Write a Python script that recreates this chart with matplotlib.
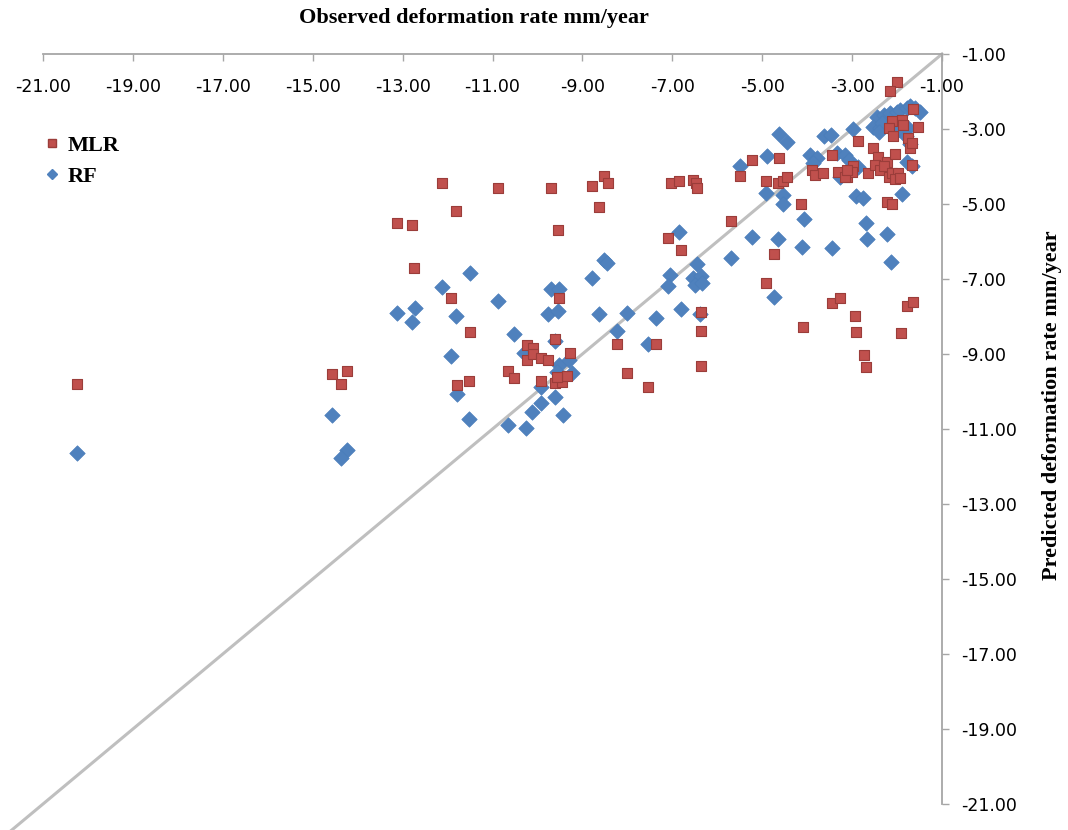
import matplotlib
matplotlib.use('Agg')
import matplotlib.pyplot as plt
from matplotlib.ticker import FormatStrFormatter
from matplotlib.lines import Line2D

# MLR predictions (observed, predicted) in mm/year
mlr_obs = [-20.25, -14.58, -14.23, -14.36, -13.12, -12.80, -12.75, -12.12, -10.87, -9.70,
           -11.82, -9.55, -8.79, -8.52, -8.44, -8.64, -7.03, -6.86, -6.54, -6.47,
           -6.45, -5.70, -7.10, -6.81, -11.92, -9.53, -11.50, -6.36, -6.36, -6.36,
           -8.24, -7.37, -8.01, -7.54, -11.53, -11.80, -10.65, -10.53, -10.24, -10.09,
           -10.24, -10.10, -9.93, -9.77, -9.62, -9.27, -9.91, -9.60, -9.45, -9.34,
           -9.56, -5.50, -5.23, -4.62, -4.91, -4.64, -4.54, -4.45, -3.89, -3.82,
           -3.65, -3.45, -3.32, -3.12, -2.98, -3.01, -2.65, -2.86, -2.53, -2.43,
           -2.23, -2.04, -2.49, -2.38, -2.30, -2.19, -2.12, -1.97, -2.04, -1.93,
           -3.16, -3.12, -1.67, -2.23, -2.12, -4.13, -4.73, -4.91, -3.44, -3.27,
           -4.10, -2.93, -2.91, -2.73, -2.69, -1.78, -1.64, -1.91, -2.01, -2.16,
           -1.53, -1.64, -2.12, -1.89, -1.86, -2.19, -2.08, -1.76, -1.71, -1.67]
mlr_pred = [-9.81, -9.54, -9.45, -9.81, -5.51, -5.56, -6.72, -4.43, -4.58, -4.58,
            -5.19, -5.69, -4.51, -4.25, -4.43, -5.07, -4.43, -4.40, -4.36, -4.45,
            -4.58, -5.45, -5.90, -6.23, -7.51, -7.51, -8.42, -7.87, -8.39, -9.31,
            -8.74, -8.72, -9.52, -9.87, -9.71, -9.83, -9.45, -9.63, -8.76, -8.85,
            -9.15, -9.01, -9.10, -9.16, -8.61, -8.96, -9.71, -9.78, -9.75, -9.59,
            -9.61, -4.25, -3.84, -3.78, -4.39, -4.45, -4.38, -4.29, -4.09, -4.23,
            -4.18, -3.69, -4.15, -4.29, -3.99, -4.16, -4.18, -3.32, -3.50, -3.74,
            -3.87, -3.67, -3.96, -4.09, -3.99, -4.27, -4.18, -4.18, -4.34, -4.31,
            -4.27, -4.09, -3.96, -4.96, -5.00, -5.00, -6.34, -7.10, -7.65, -7.51,
            -8.27, -7.98, -8.42, -9.04, -9.36, -7.72, -7.61, -8.45, -1.76, -1.98,
            -2.94, -2.47, -2.80, -2.76, -2.89, -2.98, -3.20, -3.23, -3.51, -3.38]

# RF predictions
rf_obs = [-20.24, -14.58, -14.23, -14.36, -13.12, -12.73, -12.80, -11.50, -12.12, -10.87,
          -11.82, -11.92, -11.80, -11.53, -10.53, -9.69, -9.53, -9.77, -9.55, -8.79,
          -8.52, -8.45, -8.64, -8.01, -8.23, -7.55, -7.37, -7.06, -7.10, -6.86,
          -6.81, -6.45, -6.54, -6.36, -6.49, -6.34, -6.38, -5.70, -10.30, -9.62,
          -9.53, -9.23, -9.30, -9.56, -9.93, -9.60, -9.91, -10.13, -9.43, -10.65,
          -10.26, -5.50, -4.90, -4.62, -4.44, -3.62, -3.47, -2.97, -4.91, -4.54,
          -4.54, -4.08, -5.23, -4.64, -4.12, -4.73, -3.44, -2.69, -2.66, -2.22,
          -2.13, -2.92, -2.75, -1.90, -1.66, -1.78, -3.93, -3.77, -3.86, -3.34,
          -3.16, -3.08, -2.98, -2.87, -3.27, -1.71, -2.45, -2.30, -2.16, -2.01,
          -1.93, -1.78, -1.71, -1.60, -1.49, -2.53, -2.38, -2.34, -1.97, -1.75,
          -2.41, -1.80]
rf_pred = [-11.65, -10.63, -11.56, -11.78, -7.90, -7.78, -8.16, -6.85, -7.22, -7.58,
           -7.98, -9.05, -10.07, -10.73, -8.47, -7.28, -7.28, -7.93, -7.85, -6.98,
           -6.49, -6.58, -7.94, -7.91, -8.40, -8.73, -8.05, -6.89, -7.20, -5.74,
           -7.80, -6.61, -6.98, -6.92, -7.16, -7.11, -7.94, -6.45, -8.96, -8.65,
           -9.29, -9.50, -9.16, -9.47, -9.89, -10.16, -10.30, -10.54, -10.63, -10.89,
           -10.96, -3.99, -3.72, -3.14, -3.34, -3.20, -3.16, -3.00, -4.72, -4.76,
           -5.00, -5.40, -5.87, -5.94, -6.14, -7.49, -6.18, -5.50, -5.93, -5.81,
           -6.54, -4.80, -4.85, -4.74, -3.99, -3.87, -3.69, -3.78, -3.90, -3.65,
           -3.69, -3.83, -4.04, -4.01, -4.28, -3.40, -2.67, -2.63, -2.58, -2.56,
           -2.49, -2.45, -2.40, -2.45, -2.54, -2.94, -2.98, -2.85, -3.03, -2.98,
           -3.07, -3.20]

ticks = [-21, -19, -17, -15, -13, -11, -9, -7, -5, -3, -1]

red = '#C0504D'
blue = '#4F81BD'
grey = '#A6A6A6'

fig = plt.figure(figsize=(10.68, 8.30), dpi=100)
ax = fig.add_axes([43 / 1068, 1 - 804 / 830, 899 / 1068, 750 / 830])

# 1:1 line, runs past the plot corner like the original
ax.plot([-22.5, -1], [-22.5, -1], color='#BFBFBF', lw=2.2, clip_on=False, zorder=2)

ax.scatter(rf_obs, rf_pred, marker='D', s=62, c=blue, edgecolors='#4A7EBB',
           linewidths=0.5, zorder=3)
ax.scatter(mlr_obs, mlr_pred, marker='s', s=42, c=red, edgecolors='#9B3D3A',
           linewidths=0.8, zorder=4)

ax.set_xlim(-21, -1)
ax.set_ylim(-21, -1)
ax.set_xticks(ticks)
ax.set_yticks(ticks)
ax.xaxis.set_major_formatter(FormatStrFormatter('%.2f'))
ax.yaxis.set_major_formatter(FormatStrFormatter('%.2f'))

# x axis crosses at the top, y axis at the right
ax.spines['top'].set_visible(False)
ax.spines['left'].set_visible(False)
ax.spines['bottom'].set_position(('data', -1))
for side in ['bottom', 'right']:
    ax.spines[side].set_color(grey)
    ax.spines[side].set_linewidth(1.3)
ax.yaxis.tick_right()
ax.tick_params(axis='both', direction='out', length=5, width=1.0, color=grey,
               labelsize=12.5, labelcolor='black')
ax.tick_params(axis='x', pad=12)
ax.tick_params(axis='y', pad=9)

fig.text(474 / 1068, 1 - 18 / 830, 'Observed deformation rate mm/year',
         ha='center', va='center', family='Liberation Serif', weight='bold', size=16)
fig.text(1052 / 1068, 1 - 405 / 830, 'Predicted deformation rate mm/year',
         ha='center', va='center', rotation=90, family='Liberation Serif',
         weight='bold', size=16)

handles = [Line2D([], [], marker='s', ls='none', color=red, markeredgecolor='#9B3D3A', markersize=6),
           Line2D([], [], marker='D', ls='none', color=blue, markersize=5.5)]
fig.legend(handles, ['MLR', 'RF'], loc='center left', bbox_to_anchor=(43 / 1068, 1 - 161 / 830),
           frameon=False, handlelength=0.8, handletextpad=0.3, labelspacing=0.45,
           borderpad=0, borderaxespad=0,
           prop={'family': 'Liberation Serif', 'weight': 'bold', 'size': 16})

fig.savefig('out.png', dpi=100)
